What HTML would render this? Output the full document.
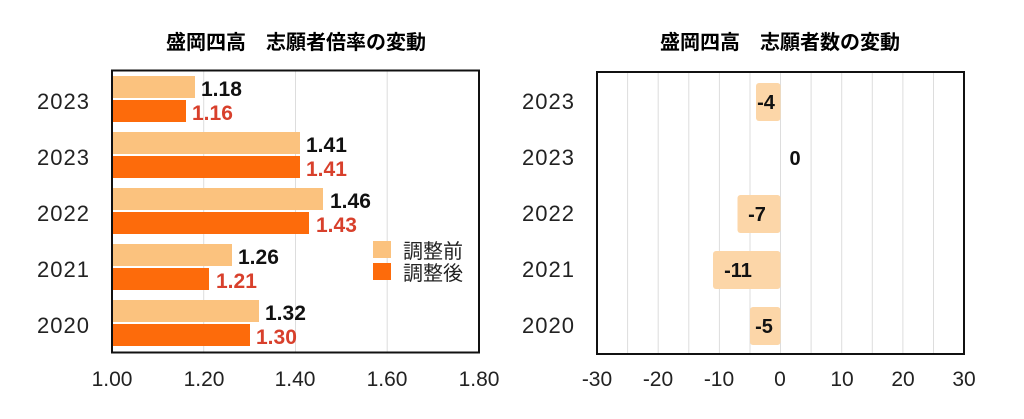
<!DOCTYPE html>
<html><head><meta charset="utf-8"><style>
body{margin:0;background:#fff;width:1024px;height:414px;overflow:hidden}
text{font-family:"Liberation Sans","Noto Sans CJK JP",sans-serif}
</style></head><body>
<svg width="1024" height="414" viewBox="0 0 1024 414">
<g font-size="20" font-weight="bold" text-anchor="middle">
<text x="296" y="49">盛岡四高　志願者倍率の変動</text>
<text x="780" y="49">盛岡四高　志願者数の変動</text>
</g>
<g stroke="#ddd" stroke-width="1">
<line x1="203.7" y1="71" x2="203.7" y2="352"/><line x1="295.5" y1="71" x2="295.5" y2="352"/><line x1="387.2" y1="71" x2="387.2" y2="352"/>
</g>
<g>
<rect x="113" y="76" width="82" height="22" fill="#fbc27e"/><rect x="113" y="100" width="73" height="22" fill="#fd6b0b"/>
<rect x="113" y="132" width="187" height="22" fill="#fbc27e"/><rect x="113" y="156" width="187" height="22" fill="#fd6b0b"/>
<rect x="113" y="188" width="210" height="22" fill="#fbc27e"/><rect x="113" y="212" width="196" height="22" fill="#fd6b0b"/>
<rect x="113" y="244" width="119" height="22" fill="#fbc27e"/><rect x="113" y="268" width="96" height="22" fill="#fd6b0b"/>
<rect x="113" y="300" width="146" height="22" fill="#fbc27e"/><rect x="113" y="324" width="137" height="22" fill="#fd6b0b"/>
</g>
<g font-size="21" font-weight="bold">
<text x="201" y="96" fill="#111">1.18</text><text x="192" y="120" fill="#d8402c">1.16</text>
<text x="306" y="152" fill="#111">1.41</text><text x="306" y="176" fill="#d8402c">1.41</text>
<text x="330" y="208" fill="#111">1.46</text><text x="316" y="232" fill="#d8402c">1.43</text>
<text x="238" y="264" fill="#111">1.26</text><text x="216" y="288" fill="#d8402c">1.21</text>
<text x="265" y="320" fill="#111">1.32</text><text x="256" y="344" fill="#d8402c">1.30</text>
</g>
<rect x="373" y="241" width="18" height="17" fill="#fbc27e"/><rect x="373" y="263" width="18" height="17" fill="#fd6b0b"/>
<g font-size="20" fill="#222"><text x="403" y="258">調整前</text><text x="403" y="280">調整後</text></g>
<rect x="112" y="70.5" width="367" height="282" fill="none" stroke="#111" stroke-width="2"/>
<g font-size="22" fill="#222" text-anchor="end" letter-spacing="1">
<text x="90" y="109">2023</text><text x="90" y="165">2023</text><text x="90" y="221">2022</text><text x="90" y="277">2021</text><text x="90" y="333">2020</text>
<text x="575" y="109">2023</text><text x="575" y="165">2023</text><text x="575" y="221">2022</text><text x="575" y="277">2021</text><text x="575" y="333">2020</text>
</g>
<g font-size="21" fill="#222" text-anchor="middle">
<text x="112" y="386">1.00</text><text x="204" y="386">1.20</text><text x="295" y="386">1.40</text><text x="387" y="386">1.60</text><text x="479" y="386">1.80</text>
<text x="597" y="386">-30</text><text x="658" y="386">-20</text><text x="719" y="386">-10</text><text x="780" y="386">0</text><text x="842" y="386">10</text><text x="903" y="386">20</text><text x="964" y="386">30</text>
</g>
<g stroke="#ddd" stroke-width="1">
<line x1="627.6" y1="72" x2="627.6" y2="354"/><line x1="658.2" y1="72" x2="658.2" y2="354"/><line x1="688.8" y1="72" x2="688.8" y2="354"/><line x1="719.4" y1="72" x2="719.4" y2="354"/><line x1="750" y1="72" x2="750" y2="354"/><line x1="780.5" y1="72" x2="780.5" y2="354"/><line x1="811.1" y1="72" x2="811.1" y2="354"/><line x1="841.7" y1="72" x2="841.7" y2="354"/><line x1="872.3" y1="72" x2="872.3" y2="354"/><line x1="902.9" y1="72" x2="902.9" y2="354"/><line x1="933.5" y1="72" x2="933.5" y2="354"/>
</g>
<g fill="#fcd6a8">
<rect x="756" y="83" width="24.5" height="38" rx="3"/>
<rect x="737.5" y="195" width="43" height="38" rx="3"/>
<rect x="713" y="251" width="67.5" height="38" rx="3"/>
<rect x="750" y="307" width="30.5" height="38" rx="3"/>
</g>
<g font-size="20" font-weight="bold" fill="#111" text-anchor="middle">
<text x="766" y="109">-4</text><text x="795" y="165">0</text><text x="757" y="221">-7</text><text x="738" y="277">-11</text><text x="764" y="333">-5</text>
</g>
<rect x="597" y="72" width="367" height="282" fill="none" stroke="#111" stroke-width="2"/>
</svg>
</body></html>
